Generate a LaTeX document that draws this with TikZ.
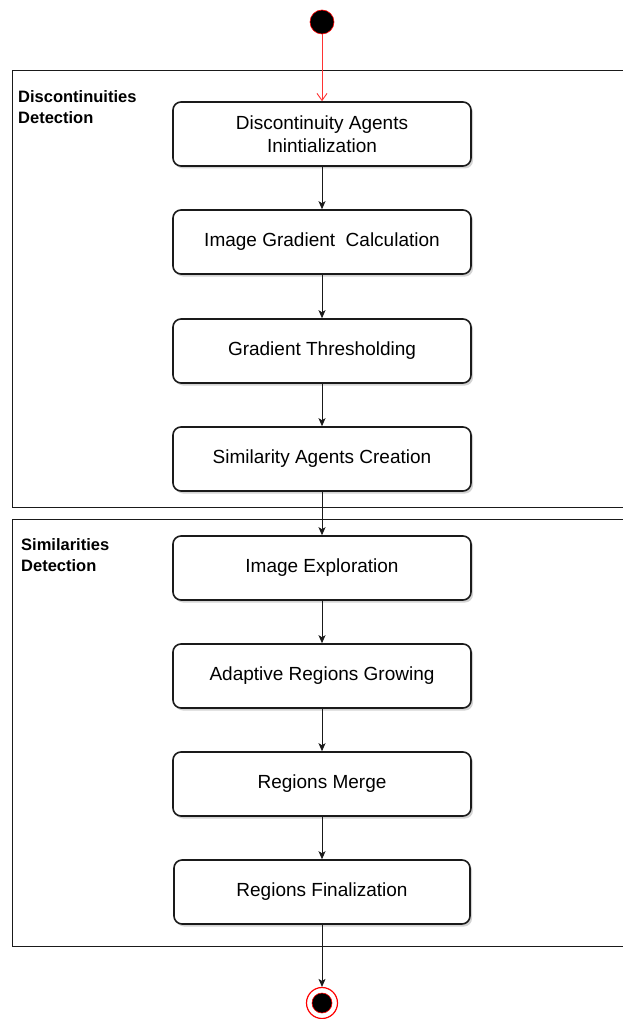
\documentclass[tikz,border=0pt]{standalone}
\usepackage{fontspec}
\setmainfont{Liberation Sans}
\usetikzlibrary{arrows.meta,shadows}
\definecolor{ink}{HTML}{1A1A1A}
\begin{document}
\begin{tikzpicture}[x=1pt,y=-1pt,
  act/.style={draw=ink, line width=1.6pt, rounded corners=8pt, fill=white,
    minimum width=298pt, minimum height=64pt, align=center, inner sep=0pt,
    font=\fontsize{19}{22.5}\selectfont,
    drop shadow={shadow xshift=2pt, shadow yshift=-2.5pt, opacity=0.35}},
  lane/.style={draw=ink, line width=0.9pt},
  lanelabel/.style={anchor=north west, align=left, inner sep=0pt, font=\bfseries\fontsize{16.5}{21.5}\selectfont},
  flow/.style={draw=ink, line width=0.9pt, -{Stealth[length=8pt,width=7pt,inset=2pt]}},
  startflow/.style={draw=red!80!white, line width=0.9pt, -{Straight Barb[length=7pt,width=10pt]}}
]
\useasboundingbox (0,0) rectangle (623,1019);
% lanes
\draw[lane] (12,70) rectangle (640,507);
\draw[lane] (12,519) rectangle (640,946);
\node[lanelabel] (l1) at (18,90) {Discontinuities\\Detection};
\node[lanelabel] (l2) at (21,538) {Similarities\\Detection};
% start / end
\node[circle, fill=black, draw=red, line width=0.6pt, minimum size=24pt, inner sep=0pt] (start) at (322,22) {};
\node[circle, draw=red, line width=1.2pt, fill=white, minimum size=31pt, inner sep=0pt] (end) at (322,1003) {};
\node[circle, fill=black, draw=red, line width=0.6pt, minimum size=20pt, inner sep=0pt] (endin) at (322,1003) {};
% activities
\node[act] (a1) at (322,134) {Discontinuity Agents\\Inintialization};
\node[act] (a2) at (322,242) {Image Gradient \ Calculation};
\node[act] (a3) at (322,351) {Gradient Thresholding};
\node[act] (a4) at (322,459) {Similarity Agents Creation};
\node[act] (a5) at (322,568) {Image Exploration};
\node[act] (a6) at (322,676) {Adaptive Regions Growing};
\node[act] (a7) at (322,784) {Regions Merge};
\node[act, minimum width=296pt] (a8) at (322,892) {Regions Finalization};
% flows
\draw[startflow] (start) -- (a1);
\draw[flow] (a1) -- (a2);
\draw[flow] (a2) -- (a3);
\draw[flow] (a3) -- (a4);
\draw[flow] (a4) -- (a5);
\draw[flow] (a5) -- (a6);
\draw[flow] (a6) -- (a7);
\draw[flow] (a7) -- (a8);
\draw[flow] (a8) -- (end);
\end{tikzpicture}
\end{document}
